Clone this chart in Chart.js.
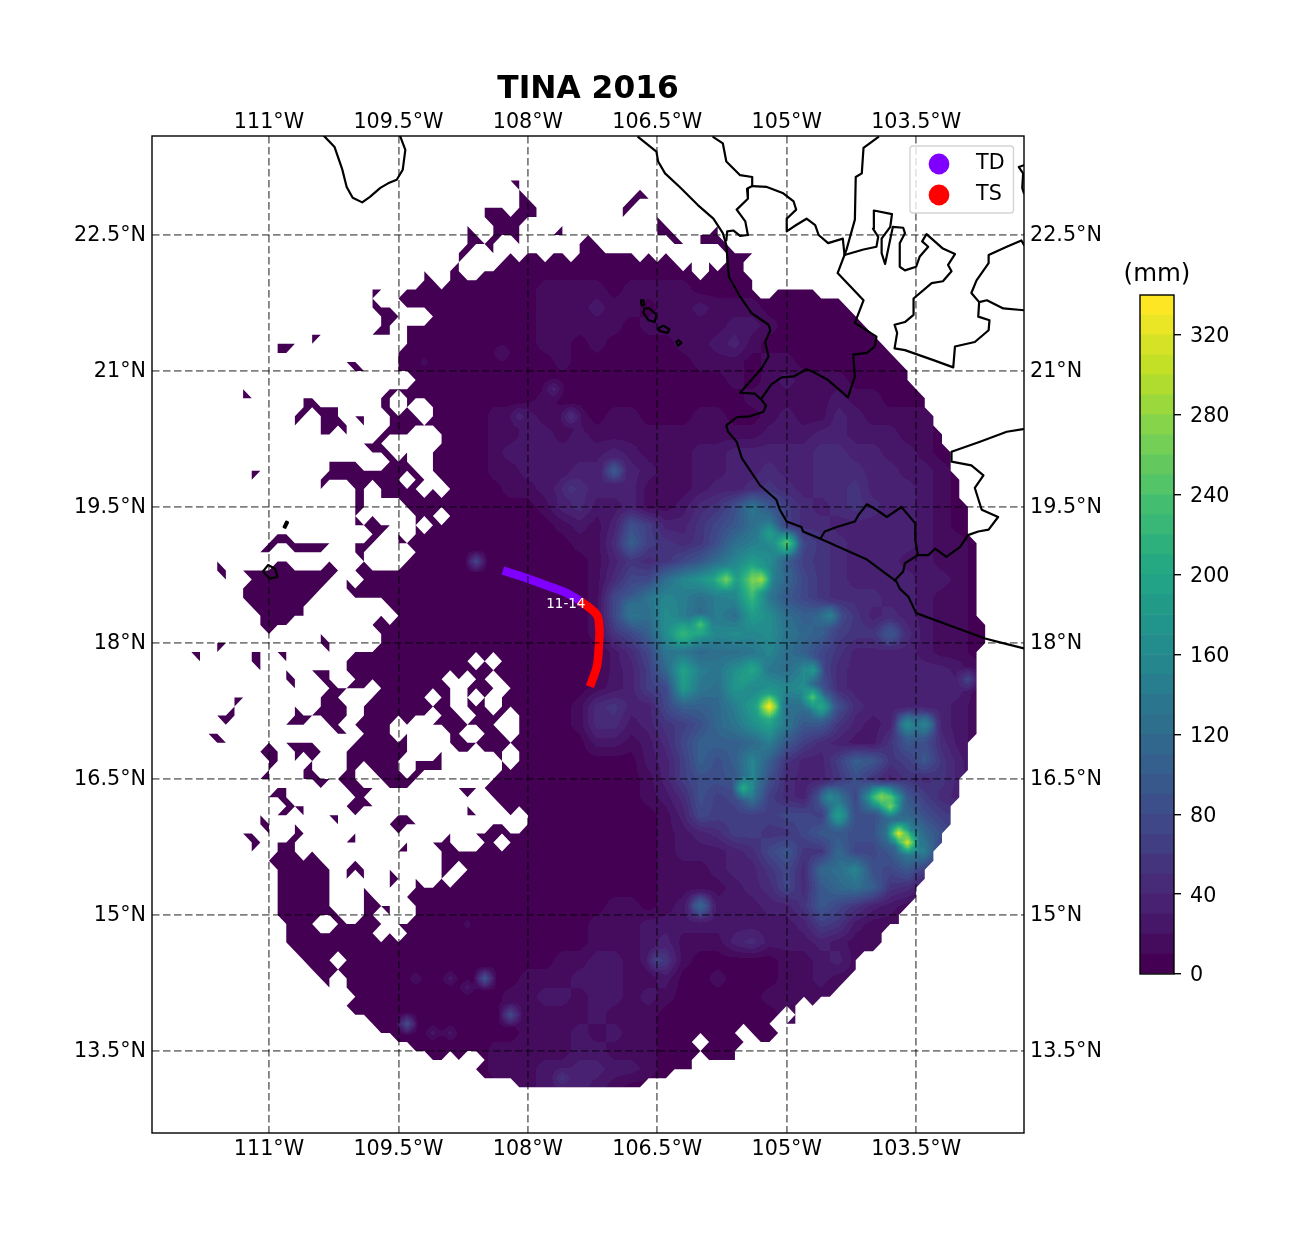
<!DOCTYPE html>
<html>
<head>
<meta charset="utf-8">
<title>TINA 2016</title>
<script src="https://cdn.jsdelivr.net/npm/chart.js@4/dist/chart.umd.min.js"></script>
<style>
  html, body { margin: 0; padding: 0; background: #fff; }
  #wrap { position: relative; width: 1303px; height: 1233px; overflow: hidden; }
  #map { position: absolute; left: 0; top: 0; }
  #bar { position: absolute; left: 1100px; top: 250px; }
</style>
</head>
<body>
<div id="wrap">
  <canvas id="map" width="1303" height="1233"></canvas>
  <canvas id="bar" width="180" height="760"></canvas>
</div>
<script>
// ========================================
// DATA
// ========================================
const chartTitle = 'TINA 2016';
const colorbarTitle = '(mm)';

const lonTicks = [-111, -109.5, -108, -106.5, -105, -103.5];
const lonTickLabels = ['111°W', '109.5°W', '108°W', '106.5°W', '105°W', '103.5°W'];
const latTicks = [22.5, 21, 19.5, 18, 16.5, 15, 13.5];
const latTickLabels = ['22.5°N', '21°N', '19.5°N', '18°N', '16.5°N', '15°N', '13.5°N'];

// storm track, lon/lat
const trackTD = [[-108.29, 18.80], [-108.00, 18.71], [-107.71, 18.61], [-107.55, 18.55], [-107.40, 18.47]];
const trackTS = [[-107.40, 18.47], [-107.20, 18.31], [-107.17, 18.14], [-107.18, 17.92], [-107.20, 17.74], [-107.28, 17.52]];
const trackLabel = '11-14';
const trackLabelAt = [-107.56, 18.42];

const legendLabels = ['TD', 'TS'];
const legendColors = ['#7f00ff', '#ff0000'];

// coast and state borders, lon/lat
const coastBaja = [[-110.36, 23.59], [-110.24, 23.47], [-110.15, 23.22], [-110.10, 23.03], [-110.03, 22.91], [-109.92, 22.86], [-109.83, 22.92], [-109.71, 23.02], [-109.62, 23.07], [-109.52, 23.11], [-109.45, 23.22], [-109.42, 23.44], [-109.48, 23.59]];
const coastMainland = [[-106.72, 23.58], [-106.51, 23.42], [-106.49, 23.31], [-106.41, 23.18], [-106.24, 23.03], [-106.03, 22.83], [-105.85, 22.68], [-105.74, 22.52], [-105.70, 22.39], [-105.67, 22.04], [-105.54, 21.82], [-105.41, 21.64], [-105.21, 21.51], [-105.19, 21.45], [-105.25, 21.32], [-105.21, 21.16], [-105.29, 21.03], [-105.41, 20.90], [-105.54, 20.76], [-105.37, 20.75], [-105.29, 20.68], [-105.24, 20.62], [-105.27, 20.55], [-105.43, 20.50], [-105.58, 20.49], [-105.70, 20.40], [-105.68, 20.33], [-105.58, 20.22], [-105.52, 20.04], [-105.31, 19.74], [-105.12, 19.58], [-105.08, 19.47], [-105.00, 19.34], [-104.83, 19.28], [-104.81, 19.23], [-104.61, 19.15], [-104.35, 19.04], [-104.07, 18.92], [-103.73, 18.68], [-103.69, 18.60], [-103.59, 18.51], [-103.50, 18.33], [-103.07, 18.18], [-102.70, 18.05], [-102.54, 18.01], [-102.25, 17.94]];
const borderColima = [[-104.61, 19.15], [-104.56, 19.23], [-104.42, 19.28], [-104.21, 19.34], [-104.17, 19.41], [-104.07, 19.53], [-103.96, 19.47], [-103.84, 19.39], [-103.67, 19.50], [-103.51, 19.32], [-103.51, 19.14], [-103.48, 18.97], [-103.63, 18.88], [-103.65, 18.79], [-103.75, 18.69]];
const borderMichoacan = [[-103.48, 18.97], [-103.36, 18.97], [-103.28, 19.04], [-103.15, 18.95], [-102.99, 19.06], [-102.90, 19.19], [-102.78, 19.23], [-102.66, 19.25], [-102.55, 19.39], [-102.74, 19.47], [-102.82, 19.71], [-102.72, 19.85], [-102.86, 19.96], [-103.09, 20.00], [-103.09, 20.11], [-102.76, 20.22], [-102.45, 20.33], [-102.26, 20.36]];
const borderNayarit = [[-105.85, 23.58], [-105.74, 23.51], [-105.70, 23.31], [-105.54, 23.16], [-105.40, 23.14], [-105.40, 23.04], [-105.46, 23.01], [-105.45, 22.90], [-105.58, 22.78], [-105.48, 22.65], [-105.45, 22.50], [-105.54, 22.49], [-105.62, 22.55], [-105.69, 22.54], [-105.70, 22.44]];
const borderDurango = [[-105.40, 23.04], [-105.23, 23.03], [-105.04, 22.96], [-104.92, 22.87], [-104.89, 22.78], [-105.00, 22.68], [-105.00, 22.54], [-104.89, 22.61], [-104.77, 22.68], [-104.67, 22.61], [-104.63, 22.50], [-104.52, 22.41], [-104.35, 22.46], [-104.33, 22.28]];
const borderJalisco = [[-103.94, 23.58], [-104.11, 23.46], [-104.13, 23.18], [-104.20, 23.14], [-104.21, 22.67], [-104.31, 22.33], [-104.41, 22.08], [-104.11, 21.78], [-104.21, 21.53], [-103.96, 21.38], [-103.98, 21.27], [-104.07, 21.20], [-104.23, 21.18], [-104.21, 20.94], [-104.29, 20.71], [-104.52, 20.90], [-104.69, 20.99], [-104.77, 21.02], [-104.92, 20.94], [-105.06, 20.93], [-105.18, 20.85], [-105.29, 20.70]];
const borderZacatecas = [[-104.33, 22.28], [-104.11, 22.34], [-103.96, 22.37], [-103.94, 22.48], [-104.00, 22.57], [-103.99, 22.77], [-103.78, 22.73], [-103.80, 22.59], [-103.90, 22.46], [-103.90, 22.30], [-103.86, 22.18], [-103.77, 22.59], [-103.65, 22.58], [-103.63, 22.52], [-103.69, 22.41], [-103.69, 22.15], [-103.63, 22.11], [-103.50, 22.15], [-103.46, 22.26], [-103.36, 22.37], [-103.43, 22.43], [-103.38, 22.51], [-103.19, 22.35], [-103.05, 22.29], [-103.13, 22.17], [-103.09, 22.10], [-103.19, 21.99], [-103.32, 21.97], [-103.53, 21.80], [-103.53, 21.62], [-103.63, 21.54], [-103.75, 21.51], [-103.72, 21.42], [-103.75, 21.25], [-103.63, 21.23], [-103.30, 21.12], [-103.07, 21.04], [-103.05, 21.27], [-102.82, 21.32], [-102.66, 21.45], [-102.65, 21.56], [-102.78, 21.60], [-102.77, 21.76], [-102.86, 21.86], [-102.80, 22.00], [-102.66, 22.19], [-102.66, 22.28], [-102.45, 22.37], [-102.28, 22.44], [-102.25, 22.39]];
const borderAguas = [[-102.77, 21.76], [-102.68, 21.78], [-102.49, 21.69], [-102.25, 21.67]];
const borderEdge = [[-102.25, 23.27], [-102.31, 23.25], [-102.26, 23.18], [-102.27, 23.02], [-102.25, 22.96]];
const islandClarion = [[-110.83, 19.28], [-110.80, 19.34], [-110.78, 19.33], [-110.81, 19.27], [-110.83, 19.28]];
const islandSocorro = [[-111.07, 18.79], [-111.01, 18.86], [-110.93, 18.82], [-110.90, 18.73], [-110.99, 18.71], [-111.07, 18.79]];
const islandMaria1 = [[-106.69, 21.78], [-106.66, 21.78], [-106.65, 21.73], [-106.68, 21.72], [-106.69, 21.78]];
const islandMaria2 = [[-106.65, 21.69], [-106.59, 21.69], [-106.51, 21.62], [-106.53, 21.54], [-106.60, 21.56], [-106.66, 21.64], [-106.65, 21.69]];
const islandMaria3 = [[-106.49, 21.47], [-106.43, 21.50], [-106.36, 21.46], [-106.38, 21.42], [-106.47, 21.44], [-106.49, 21.47]];
const islandMaria4 = [[-106.28, 21.32], [-106.25, 21.34], [-106.22, 21.31], [-106.26, 21.28], [-106.28, 21.32]];

// which 0.1 degree nodes have rain data: one entry per latitude row from 23.1N going south,
// column 0 is 112.0W
const maskRuns = [
  '38-39',
  '39,53',
  '39-40,52-54',
  '35-37,39-41,51-52',
  '35-41,51,55',
  '33,36-39,44,55-56,62',
  '33-34,36-39,43-44,47,55-57,60-62',
  '33-36,39,46-48,57-58,60-63',
  '32-33,36,38,40-41,43-44,46-52,54,56,59,63-66',
  '28,32,37-57,59,61,63-65',
  '28,31-32,35-59,61-65',
  '28-29,31-66',
  '22-23,26-66,69-73',
  '22,25-76',
  '22-24,26-77',
  '23-25,29-78',
  '23-24,26-79',
  '15-16,22-24,26-80',
  '11-13,15,26-81',
  '11-12,25-82',
  '19-20,25-83',
  '20-21,25-84',
  '27-84',
  '7,24-85',
  '7-8,14-15,23-24,26-86',
  '14-18,23-24,26,29-86',
  '13-14,16-18,20-21,24-27,29-87',
  '13,16-19,21,24-87',
  '16-17,19,23-26,30-88',
  '21-23,30-88',
  '22-24,26,29-89',
  '17-20,24-26,29-89',
  '8-9,17-27,29-89',
  '8,16-25,27-28,30-90',
  '16,20-21,23-27,29,31-90',
  '20-21,23-90',
  '20-21,26-91',
  '20,22,27-29,31-91',
  '20-24,27,29-91',
  '11-12,22-23,25,27-91',
  '10-17,20-22,25-92',
  '9-10,13-16,20-21,27-92',
  '4,11-12,17,21,26-92',
  '4-5,7-18,20-92',
  '5,8-17,19,21-92',
  '7-16,19-92',
  '7-15,20-92',
  '8-14,24-92',
  '9-14,23,25-92',
  '9-12,22-93',
  '10,16,23-93',
  '4-5,16-17,23-93',
  '1-2,4,8-9,11-12,17,20-92',
  '2,8-9,12,19-33,35,37-92',
  '9,12,15-17,19-92',
  '12-13,16-17,20-30,32,34-35,37-92',
  '13,17-21,23-31,33-36,38-92',
  '6-7,13,16-18,22-28,30-31,33,35,37-92',
  '6,13,16-19,21-31,33-35,37-92',
  '4-6,13-19,21-28,30-32,34-37,39-92',
  '5,12-14,17-18,20-24,26,29-36,39-92',
  '3-4,18-19,21-24,26,31-32,35-37,39-92',
  '4-5,7-8,10,12-15,20-26,31-91',
  '9-11,13-16,19-26,30,32-33,35-37,39-91',
  '10-11,13,15,19-25,27-30,37,39-91',
  '10,14-15,19-20,22-25,27-30,37-91',
  '9-10,14-20,23-27,36-90',
  '11-12,16,19-22,24-26,32-90',
  '10-12,20-21,33,36-90',
  '12-14,19-22,33,37-89',
  '9,11-12,14,17-18,20,25-26,33-34,38,40-89',
  '9-10,13,18,24-27,36-37,40-89',
  '7-8,10,13-14,20,25,31,34-88',
  '8-9,11-13,19-20,26,29-31,35-36,38-88',
  '8,11-13,15,25-26,30-87',
  '10-16,20,30-87',
  '11-17,19-21,24,30-31,33-86',
  '11-17,19,21,24-25,27,30,32-86',
  '11-17,21,24,27-85',
  '11-17,21-22,26-85',
  '11-17,21-24,27-84',
  '11-18,21-22,24,27-83',
  '12-15,18-23,25-83',
  '12-22,24,26-81',
  '12-81',
  '13-80',
  '14-17,19-78',
  '15-78',
  '16-17,19-77',
  '17,19-76',
  '20-75',
  '19-71,73',
  '20-69,71,73',
  '22-68,70-71',
  '23-64,66-69',
  '25-59,61-65,67-68',
  '27-64',
  '29-30,32,35-59,61-64',
  '34-59',
  '35-56',
  '39-53'
];

// rain, tens of mm in base 36, every 0.2 degrees:
// rows from 23.1N going south, columns from 108.4W going east
const rainRows = [
  '00000 00000 00000 00000 00000 00000',
  '00000 00000 00000 00000 00000 00000',
  '00000 00000 00000 00000 00000 00000',
  '00000 00000 00000 00000 00000 00000',
  '00000 00000 00000 00000 00000 00000',
  '00000 00000 00000 00000 00000 00000',
  '00011 11011 11000 00000 00000 00000',
  '00011 12110 11211 10000 00000 00000',
  '00011 11101 11112 21000 00000 00000',
  '00011 01000 01123 10000 00000 00000',
  '00001 00000 00111 01100 00000 00000',
  '00000 00000 00001 01211 10000 00000',
  '00010 00000 00000 11111 21100 00000',
  '11211 10110 00110 01211 32111 10000',
  '11221 21111 11111 12223 32221 10000',
  '12222 22321 11223 33334 43322 10000',
  '11222 33532 11223 34334 44332 21000',
  '01123 43331 11233 45434 45333 21000',
  '00013 42231 12458 d9643 45433 21000',
  '00001 21386 33579 ce644 33333 21000',
  '00000 114a6 5458c efk75 43333 21100',
  '00000 01354 579cf iga65 43332 21100',
  '00000 01477 cfhkh qfb75 43333 22100',
  '00000 0179d fecef md975 44433 21100',
  '00000 017dc gebec igcab 85343 21100',
  '00000 0157a glifg fgdba 65584 21100',
  '00000 00247 ddbcc dfca7 53333 21100',
  '00000 00236 bjedg idcf7 43333 33210',
  '00000 01236 7idch fhfg9 43333 33310',
  '00000 14533 7aabe ioccg 84333 33210',
  '00000 14423 568bd gjd99 5323d c3210',
  '00000 02212 47aaa be964 32259 84210',
  '00000 00002 36a8a fa533 6a956 95310',
  '00000 00001 36889 f8433 58535 45310',
  '00000 00001 24867 d6439 d7kn9 64310',
  '00000 00000 13766 66776 g88bb 86520',
  '00000 00000 12346 65579 988eh b8400',
  '00000 00000 12223 47955 b779e e6200',
  '00000 00000 11123 3574b cf879 63100',
  '00000 00000 11112 34749 bca54 21000',
  '00000 00110 12822 23359 75321 00000',
  '00000 01112 22222 22236 52110 00000',
  '00000 01112 31113 42223 21100 00000',
  '00001 12212 51000 00112 31000 00000',
  '00111 22211 20010 00112 11000 00000',
  '01122 12212 10000 01111 00000 00000',
  '01111 12111 00000 00110 00000 00000',
  '00111 21211 00000 00000 00000 00000',
  '11111 22111 00000 00000 00000 00000',
  '11122 33221 00000 00000 00000 00000',
  '01122 32100 00000 00000 00000 00000'
];

// single wet nodes that stand out: lon, lat, mm
const rainPeaks = [
  [-105.2, 17.3, 335], [-105.3, 18.7, 290], [-105.7, 18.7, 265], [-105.0, 19.1, 240], [-105.2, 19.2, 190],
  [-106.0, 18.2, 240], [-106.2, 18.1, 215], [-104.7, 17.4, 245], [-104.6, 17.3, 200], [-104.7, 17.7, 185],
  [-105.5, 17.6, 190], [-105.4, 17.7, 195], [-104.5, 18.3, 150], [-103.9, 16.3, 270], [-103.8, 16.2, 265],
  [-103.7, 15.9, 320], [-103.6, 15.8, 315], [-104.4, 16.1, 185], [-104.5, 16.3, 160], [-105.5, 16.4, 210],
  [-103.6, 17.1, 160], [-103.4, 17.1, 150], [-107.0, 19.9, 100], [-108.6, 18.9, 75], [-108.5, 14.3, 95],
  [-108.2, 13.9, 80], [-109.4, 13.8, 85], [-106.5, 14.5, 70], [-106.0, 15.1, 110], [-107.6, 13.2, 55],
  [-106.8, 18.4, 130], [-102.9, 17.6, 75], [-103.8, 18.1, 90], [-108.1, 20.5, 35], [-107.5, 20.5, 50],
  [-107.5, 19.7, 55], [-107.7, 20.8, 35], [-108.3, 21.2, 20], [-109.2, 21.1, 15], [-108.7, 14.9, 15],
  [-108.9, 13.7, 25], [-109.1, 13.7, 25], [-109.3, 14.3, 20], [-108.9, 14.3, 25], [-108.7, 14.2, 25]
];

const bandEdges = [0, 10, 20, 30, 40, 50, 60, 70, 80, 90, 100, 110, 120, 130, 140, 150, 160, 170, 180, 190, 200, 210, 220, 230, 240, 250, 260, 270, 280, 290, 300, 310, 320, 330, 340];
const barTicks = [0, 40, 80, 120, 160, 200, 240, 280, 320];

// ========================================
// STYLE AND HELPERS
// ========================================
const FONT = 'DejaVu Sans';
const TICK_SIZE = 20.7;
const GRID_COLOR = 'rgba(0, 0, 0, 0.5)';
const viridisStops = ['#440154', '#482475', '#414487', '#355f8d', '#2a788e', '#21918c', '#22a884', '#44bf70', '#7ad151', '#bddf26', '#fde725'];

Chart.defaults.font.family = FONT;
Chart.defaults.color = '#000';

function hexToRgb(hex) {
    return [1, 3, 5].map(i => parseInt(hex.substr(i, 2), 16));
}

function viridis(t) {
    const pos = Math.min(t, 0.9999) * (viridisStops.length - 1);
    const i = Math.floor(pos);
    const a = hexToRgb(viridisStops[i]);
    const b = hexToRgb(viridisStops[i + 1]);
    return a.map((v, n) => Math.round(v + (b[n] - v) * (pos - i)));
}

const bandCount = bandEdges.length - 1;
const bandRgb = bandEdges.slice(1).map((e, i) => viridis(i / (bandCount - 1)));

// ========================================
// RAIN FIELD
// ========================================
const MASK_LON0 = -112, MASK_LAT0 = 23.1, MASK_STEP = 0.1;
const RAIN_LON0 = -108.4, RAIN_LAT0 = 23.1, RAIN_STEP = 0.2, PEAK_REACH = 0.14;

const rainGrid = rainRows.map(r => r.replace(/ /g, '').split('').map(ch => parseInt(ch, 36) * 10 + 5));
const maskGrid = maskRuns.map(row => {
    const cols = new Set();
    row.split(',').forEach(run => {
        const p = run.split('-').map(Number);
        for (let c = p[0]; c <= (p.length > 1 ? p[1] : p[0]); c++) cols.add(c);
    });
    return cols;
});

function rainAt(lon, lat) {
    const fx = (lon - RAIN_LON0) / RAIN_STEP;
    const fy = (RAIN_LAT0 - lat) / RAIN_STEP;
    const ix = Math.floor(fx), iy = Math.floor(fy);
    let v = 0;
    if (ix >= -1 && ix < 30 && iy >= 0 && iy < rainGrid.length - 1) {
        const tx = fx - ix, ty = fy - iy;
        const a = rainGrid[iy], b = rainGrid[iy + 1];
        const a0 = ix < 0 ? 0 : a[ix], b0 = ix < 0 ? 0 : b[ix];
        const a1 = ix + 1 > 29 ? 0 : a[ix + 1], b1 = ix + 1 > 29 ? 0 : b[ix + 1];
        v = (a0 * (1 - tx) + a1 * tx) * (1 - ty) + (b0 * (1 - tx) + b1 * tx) * ty;
    }
    for (const p of rainPeaks) {
        const dx = Math.abs(lon - p[0]), dy = Math.abs(lat - p[1]);
        if (dx < PEAK_REACH && dy < PEAK_REACH) {
            const w = (1 - dx / PEAK_REACH) * (1 - dy / PEAK_REACH);
            if (p[2] > v) v += (p[2] - v) * w;
        }
    }
    return v;
}

let fieldCache = null;

function buildField(chart) {
    const area = chart.chartArea;
    const w = Math.round(area.right - area.left), h = Math.round(area.bottom - area.top);
    const off = document.createElement('canvas');
    off.width = w;
    off.height = h;
    const octx = off.getContext('2d');
    const img = octx.createImageData(w, h);
    const xs = chart.scales.x, ys = chart.scales.y;
    for (let py = 0; py < h; py++) {
        const lat = ys.getValueForPixel(area.top + py + 0.5);
        for (let px = 0; px < w; px++) {
            const lon = xs.getValueForPixel(area.left + px + 0.5);
            const level = Math.min(bandCount - 1, Math.floor(rainAt(lon, lat) / 10));
            const c = bandRgb[level];
            const k = (py * w + px) * 4;
            img.data[k] = c[0];
            img.data[k + 1] = c[1];
            img.data[k + 2] = c[2];
            img.data[k + 3] = 255;
        }
    }
    octx.putImageData(img, 0, 0);
    return off;
}

// a quad of nodes is filled when at least three corners have data, same as a masked contourf
function maskPath(chart) {
    const xs = chart.scales.x, ys = chart.scales.y;
    const path = new Path2D();
    const nodeX = c => xs.getPixelForValue(MASK_LON0 + c * MASK_STEP);
    const nodeY = r => ys.getPixelForValue(MASK_LAT0 - r * MASK_STEP);
    for (let r = 0; r < maskGrid.length - 1; r++) {
        for (let c = 0; c < 94; c++) {
            const corners = [[c, r], [c + 1, r], [c + 1, r + 1], [c, r + 1]].filter(n => maskGrid[n[1]].has(n[0]));
            if (corners.length < 3) continue;
            corners.forEach((n, i) => {
                if (i === 0) path.moveTo(nodeX(n[0]), nodeY(n[1]));
                else path.lineTo(nodeX(n[0]), nodeY(n[1]));
            });
            path.closePath();
        }
    }
    return path;
}

const rainFieldPlugin = {
    id: 'rainField',
    beforeDatasetsDraw: function(chart) {
        if (!fieldCache) fieldCache = { image: buildField(chart), path: maskPath(chart) };
        const ctx = chart.ctx;
        ctx.save();
        ctx.clip(fieldCache.path);
        ctx.drawImage(fieldCache.image, chart.chartArea.left, chart.chartArea.top);
        ctx.restore();
    }
};

const mapLegendPlugin = {
    id: 'mapLegend',
    afterDraw: function(chart) {
        const ctx = chart.ctx;
        const area = chart.chartArea;
        const right = area.right - 10.5, top = area.top + 10;
        ctx.save();
        // axes frame
        ctx.strokeStyle = '#000';
        ctx.lineWidth = 1.4;
        ctx.strokeRect(area.left, area.top, area.right - area.left, area.bottom - area.top);
        // legend box
        ctx.beginPath();
        ctx.roundRect(right - 103.5, top, 103.5, 67, 3);
        ctx.fillStyle = 'rgba(255, 255, 255, 0.8)';
        ctx.fill();
        ctx.strokeStyle = '#d4d4d4';
        ctx.stroke();
        ctx.font = TICK_SIZE + 'px "' + FONT + '"';
        ctx.textBaseline = 'middle';
        ctx.textAlign = 'left';
        legendLabels.forEach((label, i) => {
            const y = top + 18 + i * 31;
            ctx.beginPath();
            ctx.arc(right - 74.5, y, 10.4, 0, Math.PI * 2);
            ctx.fillStyle = legendColors[i];
            ctx.fill();
            ctx.fillStyle = '#000';
            ctx.fillText(label, right - 37.5, y);
        });
        // date label on the track
        ctx.font = '13.5px "' + FONT + '"';
        ctx.textAlign = 'center';
        ctx.fillStyle = '#fff';
        ctx.fillText(trackLabel, chart.scales.x.getPixelForValue(trackLabelAt[0]), chart.scales.y.getPixelForValue(trackLabelAt[1]));
        ctx.restore();
    }
};

// ========================================
// MAP CHART
// ========================================
function lineData(points) {
    return points.map(p => ({ x: p[0], y: p[1] }));
}

function trackDataset(label, points, color) {
    return {
        label: label,
        data: lineData(points),
        showLine: true,
        pointRadius: 0,
        borderColor: color,
        borderWidth: 8.5,
        borderCapStyle: 'butt',
        borderJoinStyle: 'round',
        tension: 0.3,
        xAxisID: 'x',
        yAxisID: 'y'
    };
}

function coastDataset(points) {
    return {
        data: lineData(points),
        showLine: true,
        pointRadius: 0,
        borderColor: '#000',
        borderWidth: 2.2,
        borderJoinStyle: 'round',
        borderCapStyle: 'round',
        xAxisID: 'x',
        yAxisID: 'y'
    };
}

function lonAxis(position, primary, padding, height) {
    return {
        type: 'linear',
        position: position,
        min: -112.356,
        max: -102.25,
        grid: { display: primary, z: 1, color: GRID_COLOR, lineWidth: 1.8, drawTicks: false },
        border: { display: false, dash: [7.5, 3.5] },
        ticks: {
            font: { size: TICK_SIZE },
            color: '#000',
            padding: padding,
            autoSkip: false,
            maxRotation: 0,
            minRotation: 0,
            callback: value => lonTickLabels[lonTicks.indexOf(value)]
        },
        afterBuildTicks: axis => { axis.ticks = lonTicks.map(v => ({ value: v })); },
        afterFit: axis => { axis.height = height; }
    };
}

function latAxis(position, primary, padding, width) {
    return {
        type: 'linear',
        position: position,
        min: 12.596,
        max: 23.592,
        grid: { display: primary, z: 1, color: GRID_COLOR, lineWidth: 1.8, drawTicks: false },
        border: { display: false, dash: [7.5, 3.5] },
        ticks: {
            font: { size: TICK_SIZE },
            color: '#000',
            padding: padding,
            labelOffset: 1,
            autoSkip: false,
            callback: value => latTickLabels[latTicks.indexOf(value)]
        },
        afterBuildTicks: axis => { axis.ticks = latTicks.map(v => ({ value: v })); },
        afterFit: axis => { axis.width = width; }
    };
}

new Chart(document.getElementById('map').getContext('2d'), {
    type: 'scatter',
    data: {
        datasets: [
            trackDataset('TS', trackTS, legendColors[1]),
            trackDataset('TD', trackTD, legendColors[0]),
            coastDataset(coastBaja),
            coastDataset(coastMainland),
            coastDataset(borderColima),
            coastDataset(borderMichoacan),
            coastDataset(borderNayarit),
            coastDataset(borderDurango),
            coastDataset(borderJalisco),
            coastDataset(borderZacatecas),
            coastDataset(borderAguas),
            coastDataset(borderEdge),
            coastDataset(islandClarion),
            coastDataset(islandSocorro),
            coastDataset(islandMaria1),
            coastDataset(islandMaria2),
            coastDataset(islandMaria3),
            coastDataset(islandMaria4)
        ]
    },
    options: {
        responsive: false,
        animation: false,
        layout: { padding: 0 },
        scales: {
            x: lonAxis('bottom', true, 3.7, 100),
            xTop: lonAxis('top', false, 1.2, 27.44),
            y: latAxis('left', true, 6, 152),
            yRight: latAxis('right', false, 6, 279)
        },
        plugins: {
            legend: { display: false },
            tooltip: { enabled: false },
            title: {
                display: true,
                text: chartTitle,
                fullSize: false,
                color: '#000',
                font: { size: 31.3, weight: 'bold', lineHeight: 1.2 },
                padding: { top: 71, bottom: 0 }
            }
        }
    },
    plugins: [rainFieldPlugin, mapLegendPlugin]
});

// ========================================
// COLORBAR
// ========================================
const colorbarFramePlugin = {
    id: 'colorbarFrame',
    afterDraw: function(chart) {
        const ctx = chart.ctx;
        const area = chart.chartArea;
        ctx.save();
        ctx.strokeStyle = '#000';
        ctx.lineWidth = 1.4;
        ctx.strokeRect(area.left, area.top, area.right - area.left, area.bottom - area.top);
        ctx.fillStyle = '#000';
        ctx.font = '24.5px "' + FONT + '"';
        ctx.textAlign = 'center';
        ctx.textBaseline = 'middle';
        ctx.fillText(colorbarTitle, (area.left + area.right) / 2, area.top - 20);
        ctx.restore();
    }
};

new Chart(document.getElementById('bar').getContext('2d'), {
    type: 'bar',
    data: {
        labels: [colorbarTitle],
        datasets: bandRgb.map((c, i) => ({
            data: [[bandEdges[i], bandEdges[i + 1]]],
            backgroundColor: 'rgb(' + c.join(',') + ')',
            borderWidth: 0,
            barPercentage: 1,
            categoryPercentage: 1,
            grouped: false
        }))
    },
    options: {
        responsive: false,
        animation: false,
        layout: { padding: { left: 40, top: 45, bottom: 36, right: 0 } },
        scales: {
            x: { display: false },
            y: {
                position: 'right',
                min: 0,
                max: 340,
                grid: { drawOnChartArea: false, drawTicks: true, tickLength: 7, color: '#000', lineWidth: 1.4 },
                border: { display: false },
                ticks: { font: { size: TICK_SIZE }, color: '#000', padding: 9, labelOffset: 2 },
                afterBuildTicks: axis => { axis.ticks = barTicks.map(v => ({ value: v })); },
                afterFit: axis => { axis.width = 106; }
            }
        },
        plugins: { legend: { display: false }, tooltip: { enabled: false } }
    },
    plugins: [colorbarFramePlugin]
});
</script>
</body>
</html>
